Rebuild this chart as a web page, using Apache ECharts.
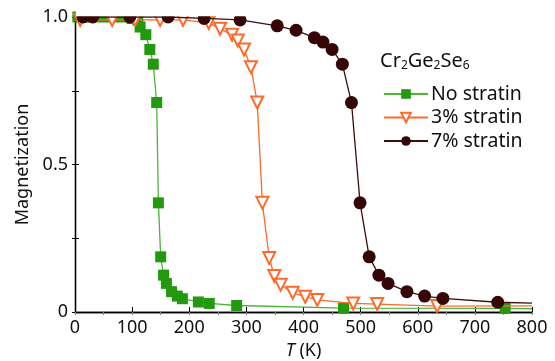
<!DOCTYPE html>
<html><head><meta charset="utf-8">
<script src="https://cdn.jsdelivr.net/npm/echarts@6/dist/echarts.min.js"></script>
<style>html,body{margin:0;padding:0;background:#fff}#c{width:555px;height:361px}</style>
</head><body><div id="c"></div>
<script>
const seriesNames = ['No stratin', '3% stratin', '7% stratin'];
const noT = [5, 15, 30, 50, 80, 100, 110, 114, 124, 131, 137, 143, 146, 150, 155, 160, 169, 179, 188, 216, 235, 283, 470, 753, 800];
const noM = [1.0, 1.0, 1.0, 1.0, 1.0, 0.995, 0.99, 0.966, 0.94, 0.89, 0.84, 0.71, 0.37, 0.187, 0.125, 0.097, 0.069, 0.054, 0.045, 0.034, 0.029, 0.022, 0.013, 0.012, 0.011];
const s3T = [9, 65, 105, 149, 189, 234, 254, 275, 285, 296, 308, 319, 328, 340, 349, 360, 381, 403, 424, 487, 529, 634, 800];
const s3M = [0.99, 0.99, 0.99, 0.99, 0.99, 0.98, 0.96, 0.94, 0.92, 0.89, 0.83, 0.71, 0.37, 0.183, 0.122, 0.092, 0.065, 0.052, 0.041, 0.029, 0.027, 0.02, 0.021];
const s7T = [14, 31, 96, 163, 226, 289, 354, 387, 419, 434, 450, 468, 484, 499, 515, 532, 548, 581, 612, 644, 740, 800];
const s7M = [1.0, 1.0, 1.0, 1.0, 0.995, 0.99, 0.97, 0.955, 0.93, 0.915, 0.89, 0.84, 0.71, 0.37, 0.187, 0.125, 0.097, 0.069, 0.054, 0.046, 0.033, 0.03];
const xTicks = [0, 100, 200, 300, 400, 500, 600, 700, 800];
const yTickLabels = {0: '0', 0.5: '0.5', 1: '1.0'};

function mk(T, M) {
  return T.map((t, i) => i === T.length - 1 ? {value: [t, M[i]], symbol: 'none'} : [t, M[i]]);
}
const FONT = 'Noto Sans';
const FS = 18;
const chart = echarts.init(document.getElementById('c'), null, {renderer: 'canvas'});
const axLine = {lineStyle: {color: '#000', width: 1.3}};
chart.setOption({
  animation: false,
  backgroundColor: '#fff',
  textStyle: {fontFamily: FONT},
  grid: {left: 75, right: 23, top: 17, bottom: 49, containLabel: false, outerBoundsMode: 'none'},
  title: {
    left: 375, top: 45,
    text: '{a|Cr}{s|2}{a|Ge}{s|2}{a|Se}{s|6}',
    textStyle: {fontWeight: 'normal', rich: {
      a: {fontFamily: FONT, fontSize: 20, fontWeight: 'normal', color: '#111'},
      s: {fontFamily: FONT, fontSize: 12, fontWeight: 'normal', color: '#111', verticalAlign: 'bottom', padding: [10, 0, 0, 0]}
    }}
  },
  legend: {
    orient: 'vertical', left: 383, top: 84,
    itemWidth: 44, itemHeight: 12, itemGap: 3.5, padding: 0,
    textStyle: {fontFamily: FONT, fontSize: 19.5, color: '#111', padding: [0, 0, 0, -2]},
    data: seriesNames
  },
  xAxis: [{
    type: 'value', min: 0, max: 800, interval: 100,
    name: '{i|T} (K)', nameLocation: 'middle', nameGap: 29,
    nameTextStyle: {fontFamily: FONT, fontSize: FS, color: '#111', rich: {i: {fontFamily: FONT, fontSize: FS, fontStyle: 'italic', color: '#111'}}},
    axisLine: axLine,
    axisTick: {inside: true, length: 5, lineStyle: {color: '#000'}},
    axisLabel: {fontFamily: FONT, fontSize: FS, color: '#111', margin: 7,
      formatter: v => xTicks.indexOf(v) >= 0 ? String(v) : ''},
    splitLine: {show: false}
  }, {
    type: 'value', min: 0, max: 800, interval: 50, position: 'top',
    axisLine: axLine,
    axisTick: {inside: true, length: 3, lineStyle: {color: '#888'}},
    axisLabel: {show: false}, splitLine: {show: false}
  }],
  yAxis: [{
    type: 'value', min: 0, max: 1, interval: 0.25,
    name: 'Magnetization', nameLocation: 'middle', nameGap: 39,
    nameTextStyle: {fontFamily: FONT, fontSize: FS, color: '#111'},
    axisLine: axLine,
    axisTick: {inside: true, length: 4, lineStyle: {color: '#000'}},
    axisLabel: {fontFamily: FONT, fontSize: FS, color: '#111', margin: 7,
      formatter: v => (v in yTickLabels) ? yTickLabels[v] : ''},
    splitLine: {show: false}
  }, {
    type: 'value', min: 0, max: 1, interval: 0.25, position: 'right',
    axisLine: axLine,
    axisTick: {inside: true, length: 3, lineStyle: {color: '#000'}},
    axisLabel: {show: false}, splitLine: {show: false}
  }],
  series: [{
    name: seriesNames[0], type: 'line', data: mk(noT, noM),
    symbol: 'rect', symbolSize: 11, clip: false,
    itemStyle: {color: '#22990f'}, lineStyle: {color: '#4bb53a', width: 1.3}, z: 3
  }, {
    name: seriesNames[1], type: 'line', data: mk(s3T, s3M),
    symbol: 'emptyTriangle', symbolSize: 12, symbolRotate: 180, clip: false,
    itemStyle: {color: '#ff6a2a', borderWidth: 1.4}, lineStyle: {color: '#ff6a2a', width: 1.3}, z: 4
  }, {
    name: seriesNames[2], type: 'line', data: mk(s7T, s7M),
    symbol: 'circle', symbolSize: 13, clip: false,
    itemStyle: {color: '#360606'}, lineStyle: {color: '#3d0d0d', width: 1.3}, z: 5
  }]
});
chart.setOption({
  graphic: [{
    type: 'rect', z: 100, silent: true,
    shape: {x: 76, y: 0, width: 470, height: 16.3},
    style: {fill: '#fff'}
  }]
});
</script></body></html>
